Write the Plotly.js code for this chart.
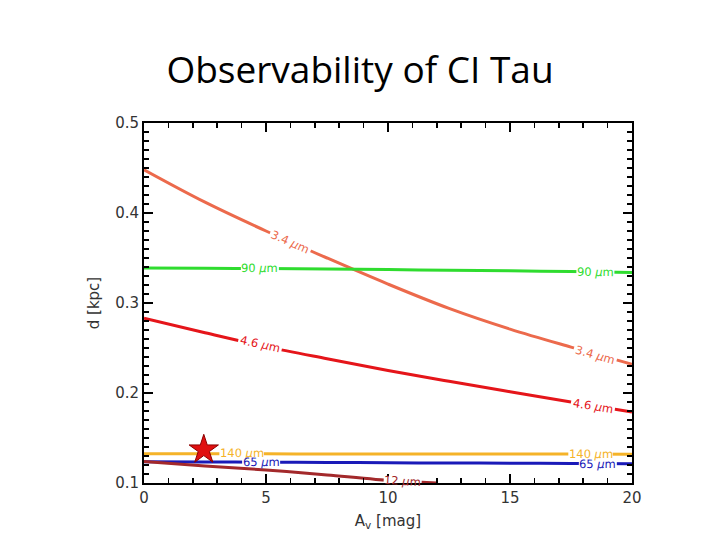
<!DOCTYPE html>
<html><head><meta charset="utf-8">
<script src="https://cdn.plot.ly/plotly-3.0.1.min.js"></script>
<style>body{margin:0;background:#fff}#c{width:720px;height:540px}</style>
</head><body><div id="c"></div>
<script>
// Extinction A_v [mag]
const av = [0, 2.5, 5, 7.5, 10, 12.5, 15, 17.5, 20];
// Distance limits d [kpc] per wavelength
const d34 = [0.448, 0.412, 0.380, 0.350, 0.321, 0.294, 0.271, 0.251, 0.232];
const d46 = [0.283, 0.267, 0.2515, 0.238, 0.225, 0.213, 0.2015, 0.190, 0.179];
const d90 = [0.339, 0.3386, 0.3382, 0.3377, 0.3371, 0.3364, 0.3357, 0.3349, 0.334];
const d140 = [0.1326, 0.1325, 0.1324, 0.1323, 0.1322, 0.1322, 0.1321, 0.1321, 0.132];
const d65 = [0.1237, 0.1234, 0.1231, 0.1228, 0.1225, 0.1222, 0.1220, 0.1218, 0.1215];
const av12 = [0, 2.5, 5, 7.5, 9.5, 12];
const d12 = [0.124, 0.119, 0.1145, 0.109, 0.104, 0.100];
// CI Tau position
const starAv = [2.45];
const starD = [0.137];

const series = [
  {x: av, y: d34, c: '#EC6A4C', name: '3.4 μm', lab: [[6.0, 0.368], [18.5, 0.2425]]},
  {x: av, y: d90, c: '#2FDC2F', name: '90 μm', lab: [[4.75, 0.3385], [18.5, 0.3345]]},
  {x: av, y: d46, c: '#E5151A', name: '4.6 μm', lab: [[4.75, 0.2545], [18.4, 0.1855]]},
  {x: av, y: d140, c: '#F5B328', name: '140 μm', lab: [[4.0, 0.1328], [18.3, 0.1323]]},
  {x: av, y: d65, c: '#1A1AB8', name: '65 μm', lab: [[4.8, 0.1230], [18.6, 0.1215]]},
  {x: av12, y: d12, c: '#A3292B', name: '12 μm', lab: [[10.6, 0.1018]]}
];

const traces = series.map(s => ({
  x: s.x, y: s.y, mode: 'lines', type: 'scatter', name: s.name,
  line: {color: s.c, width: 3, shape: 'spline'}, hoverinfo: 'skip', showlegend: false
}));
traces.push({
  x: starAv, y: starD, mode: 'markers', type: 'scatter', showlegend: false,
  marker: {symbol: 'star', size: 22, color: '#E01010', line: {color: '#8B0000', width: 1}}
});

// plot geometry, used only for label angles and gap boxes
const X0 = 144, X1 = 632, Y0 = 483, Y1 = 123;
function px(x){return X0 + (x/20)*(X1-X0);}
function py(y){return Y0 - ((y-0.1)/0.4)*(Y0-Y1);}
function dx(p){return (p-X0)/(X1-X0)*20;}
function dy(p){return 0.1 + (Y0-p)/(Y0-Y1)*0.4;}
function interp(xs, ys, x){
  for (let i=0;i<xs.length-1;i++){ if (x>=xs[i] && x<=xs[i+1]) { const t=(x-xs[i])/(xs[i+1]-xs[i]); return ys[i]+t*(ys[i+1]-ys[i]); } }
  return ys[ys.length-1];
}
const annotations = [], shapes = [];
series.forEach(s => {
  s.lab.forEach(([lx, ly]) => {
    const h = 0.5;
    const a = interp(s.x, s.y, Math.max(0, lx-h)), b = interp(s.x, s.y, lx+h);
    const angR = Math.atan2(py(b)-py(a), px(lx+h)-px(Math.max(0, lx-h)));
    const ang = angR * 180/Math.PI;
    const w = s.name.length * 6.4 + 6, hh = 3.5;
    const cx = px(lx), cy = py(interp(s.x, s.y, lx));
    const ca = Math.cos(angR), sa = Math.sin(angR);
    const pts = [[-w/2,-hh],[w/2,-hh],[w/2,hh],[-w/2,hh]].map(([u,v]) => [dx(cx + u*ca - v*sa), dy(cy + u*sa + v*ca)]);
    shapes.push({type: 'path', xref: 'x', yref: 'y', layer: 'above',
      path: 'M' + pts.map(p => p[0].toFixed(4) + ',' + p[1].toFixed(5)).join('L') + 'Z',
      fillcolor: '#ffffff', line: {width: 0}});
    annotations.push({
      x: lx, y: ly, xref: 'x', yref: 'y', showarrow: false,
      text: s.name.replace('μ', '<i>μ</i>'), textangle: ang,
      font: {family: 'DejaVu Sans', size: 11.5, color: s.c}
    });
  });
});

const layout = {
  width: 720, height: 540,
  margin: {l: 144, r: 88, t: 123, b: 57},
  paper_bgcolor: '#fff', plot_bgcolor: '#fff',
  title: {text: 'Observability of CI Tau', x: 0.5, xref: 'container', xanchor: 'center', y: 0.87, yref: 'container', yanchor: 'middle',
          font: {family: 'Open Sans', size: 37, color: '#000'}},
  xaxis: {
    range: [0, 20], showgrid: false, zeroline: false,
    tickvals: [0, 5, 10, 15, 20], ticktext: ['0', '5', '10', '15', '20'],
    ticks: 'inside', ticklen: 9, tickwidth: 1.5, tickcolor: '#000',
    minor: {dtick: 1, ticks: 'inside', ticklen: 5, tickwidth: 1.5, tickcolor: '#000'},
    showline: true, linecolor: '#000', linewidth: 2, mirror: 'allticks',
    tickfont: {family: 'DejaVu Sans', size: 15, color: '#333'},
    title: {text: 'A<sub>v</sub> [mag]', standoff: 9, font: {family: 'DejaVu Sans', size: 15, color: '#333'}}
  },
  yaxis: {
    range: [0.1, 0.5], showgrid: false, zeroline: false,
    tickvals: [0.1, 0.2, 0.3, 0.4, 0.5], ticktext: ['0.1', '0.2', '0.3', '0.4', '0.5'],
    ticks: 'inside', ticklen: 9, tickwidth: 1.5, tickcolor: '#000',
    minor: {dtick: 0.01, ticks: 'inside', ticklen: 5, tickwidth: 1.5, tickcolor: '#000'},
    showline: true, linecolor: '#000', linewidth: 2, mirror: 'allticks',
    tickfont: {family: 'DejaVu Sans', size: 15, color: '#333'},
    title: {text: 'd [kpc]', standoff: 12, font: {family: 'DejaVu Sans', size: 15, color: '#333'}}
  },
  shapes: shapes,
  annotations: annotations
};
Plotly.newPlot('c', traces, layout, {displayModeBar: false, staticPlot: true});
</script></body></html>
